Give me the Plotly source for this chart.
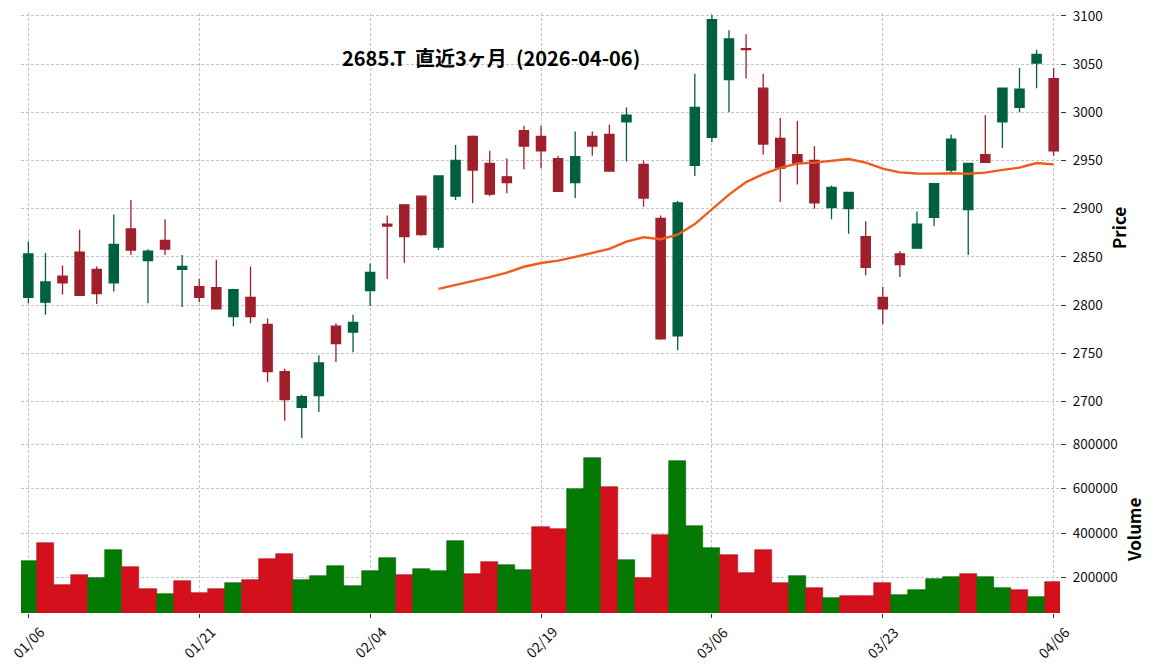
import pandas as pd
import plotly.graph_objects as go
from plotly.subplots import make_subplots

# ---------------- data ----------------
dates = [
    "2026-01-06", "2026-01-07", "2026-01-08", "2026-01-09", "2026-01-13", "2026-01-14",
    "2026-01-15", "2026-01-16", "2026-01-19", "2026-01-20", "2026-01-21", "2026-01-22",
    "2026-01-23", "2026-01-26", "2026-01-27", "2026-01-28", "2026-01-29", "2026-01-30",
    "2026-02-02", "2026-02-03", "2026-02-04", "2026-02-05", "2026-02-06", "2026-02-09",
    "2026-02-10", "2026-02-12", "2026-02-13", "2026-02-16", "2026-02-17", "2026-02-18",
    "2026-02-19", "2026-02-20", "2026-02-24", "2026-02-25", "2026-02-26", "2026-02-27",
    "2026-03-02", "2026-03-03", "2026-03-04", "2026-03-05", "2026-03-06", "2026-03-09",
    "2026-03-10", "2026-03-11", "2026-03-12", "2026-03-13", "2026-03-16", "2026-03-17",
    "2026-03-18", "2026-03-19", "2026-03-23", "2026-03-24", "2026-03-25", "2026-03-26",
    "2026-03-27", "2026-03-30", "2026-03-31", "2026-04-01", "2026-04-02", "2026-04-03",
    "2026-04-06",
]

opens = [2808, 2803, 2830, 2855, 2837, 2823, 2879, 2846, 2867, 2837,
         2819, 2818, 2788, 2808, 2780, 2731, 2694, 2706, 2778, 2772,
         2815, 2884, 2904, 2913, 2860, 2913, 2975, 2947, 2933, 2981,
         2975, 2952, 2927, 2975, 2977, 2990, 2946, 2890, 2768, 2945,
         2974, 3034, 3066, 3025, 2973, 2956, 2950, 2901, 2900, 2871,
         2808, 2853, 2859, 2891, 2940, 2899, 2956, 2990, 3005, 3051,
         3035]
highs = [2866, 2854, 2841, 2878, 2840, 2894, 2909, 2858, 2889, 2852,
         2827, 2847, 2817, 2840, 2786, 2734, 2707, 2748, 2781, 2790,
         2843, 2893, 2904, 2913, 2934, 2966, 2976, 2960, 2952, 2986,
         2986, 2955, 2980, 2980, 2987, 3005, 2950, 2893, 2908, 3040,
         3101, 3085, 3081, 3040, 2994, 2991, 2965, 2924, 2917, 2887,
         2819, 2856, 2897, 2926, 2977, 2947, 2997, 3025, 3046, 3065,
         3046]
lows = [2802, 2790, 2811, 2810, 2801, 2814, 2852, 2802, 2852, 2798,
        2803, 2796, 2778, 2781, 2720, 2680, 2662, 2689, 2741, 2751,
        2799, 2827, 2844, 2872, 2857, 2909, 2906, 2913, 2916, 2941,
        2942, 2918, 2911, 2955, 2939, 2949, 2902, 2764, 2753, 2934,
        2969, 3000, 3035, 2956, 2907, 2925, 2900, 2889, 2874, 2831,
        2780, 2829, 2859, 2882, 2938, 2852, 2948, 2963, 3000, 3025,
        2955]
closes = [2853, 2824, 2823, 2810, 2812, 2863, 2857, 2856, 2858, 2840,
          2808, 2796, 2816, 2788, 2731, 2702, 2705, 2740, 2760, 2782,
          2834, 2882, 2871, 2873, 2934, 2950, 2940, 2915, 2927, 2965,
          2960, 2918, 2954, 2965, 2939, 2997, 2911, 2765, 2906, 3005,
          3096, 3076, 3065, 2967, 2942, 2947, 2906, 2922, 2917, 2839,
          2796, 2842, 2884, 2926, 2972, 2947, 2948, 3025, 3024, 3060,
          2960]
volumes = [273000, 354000, 166000, 210000, 197000, 323000, 246000, 148000, 125000, 183000,
           130000, 148000, 175000, 188000, 282000, 305000, 188000, 206000, 251000, 161000,
           228000, 287000, 210000, 237000, 228000, 363000, 215000, 269000, 255000, 233000,
           426000, 417000, 596000, 736000, 608000, 278000, 198000, 390000, 722000, 430000,
           332000, 300000, 219000, 323000, 175000, 206000, 152000, 107000, 116000, 116000,
           175000, 121000, 143000, 192000, 202000, 215000, 202000, 152000, 143000, 112000,
           179000]

tick_dates = dates[::10]
tick_labels = ["01/06", "01/21", "02/04", "02/19", "03/06", "03/23", "04/06"]
price_ticks = [2700, 2750, 2800, 2850, 2900, 2950, 3000, 3050, 3100]
volume_ticks = [200000, 400000, 600000, 800000]
volume_tick_labels = ["200000", "400000", "600000", "800000"]
ma_window = 25
title_text = "2685.T\u00a0\u00a0直近3ヶ月\u00a0\u00a0(2026-04-06)"

# ---------------- styles ----------------
FONT = "Noto Sans CJK JP"
UP_CANDLE = "#00613f"
DOWN_CANDLE = "#9f1f2a"
UP_VOL = "#037a03"
DOWN_VOL = "#d5101d"
MA_COLOR = "#f05a1c"
GRID = "#c4c4c4"

W, H = 1152, 671
ML, MR, MT, MB = 21, 92, 13, 58
PW, PH = W - ML - MR, H - MT - MB


def px_x(x):
    return (x - ML) / PW


def px_y(y):
    return 1 - (y - MT) / PH


ma = pd.Series(closes, dtype=float).rolling(ma_window).mean()

vol_colors = []
for i in range(len(closes)):
    ref = opens[0] if i == 0 else closes[i - 1]
    vol_colors.append(UP_VOL if closes[i] >= ref else DOWN_VOL)
vol_edge = ["#026402" if c == UP_VOL else "#b00d18" for c in vol_colors]

fig = make_subplots(rows=2, cols=1, shared_xaxes=True, vertical_spacing=0)

fig.add_trace(go.Candlestick(
    x=dates, open=opens, high=highs, low=lows, close=closes,
    increasing=dict(fillcolor=UP_CANDLE, line=dict(color=UP_CANDLE, width=1.3)),
    decreasing=dict(fillcolor=DOWN_CANDLE, line=dict(color=DOWN_CANDLE, width=1.3)),
    whiskerwidth=0, showlegend=False, hoverinfo="skip",
), row=1, col=1)

fig.add_trace(go.Scatter(
    x=dates, y=ma, mode="lines", line=dict(color=MA_COLOR, width=2.4),
    showlegend=False, hoverinfo="skip", connectgaps=False,
), row=1, col=1)

fig.add_trace(go.Bar(
    x=dates, y=volumes, marker=dict(color=vol_colors, line=dict(color=vol_edge, width=0.6)),
    showlegend=False, hoverinfo="skip",
), row=2, col=1)

split = px_y(440)
xr = [-0.43, 60.37]
common_x = dict(type="category", range=xr, showgrid=True, gridcolor=GRID, gridwidth=0.8,
                griddash="3px,2px", tickvals=tick_dates, ticktext=tick_labels,
                zeroline=False, showline=False, automargin=False,
                rangeslider=dict(visible=False))
common_y = dict(side="right", showgrid=True, gridcolor=GRID, gridwidth=0.8,
                griddash="3px,2px", zeroline=False, showline=False, automargin=False,
                ticks="outside", ticklen=5, tickcolor="#333333", tickfont=dict(size=13.5),
                ticklabelstandoff=4)

annotations = [
    dict(text=title_text, x=px_x(491), y=px_y(57), xref="paper", yref="paper",
         showarrow=False, xanchor="center", yanchor="middle",
         font=dict(family=FONT, size=20, color="#000000", weight="bold")),
    dict(text="Price", x=px_x(1118), y=px_y(228), xref="paper", yref="paper",
         showarrow=False, xanchor="center", yanchor="middle", textangle=-90,
         font=dict(family=FONT, size=17, color="#000000", weight="bold")),
    dict(text="Volume", x=px_x(1133), y=px_y(530), xref="paper", yref="paper",
         showarrow=False, xanchor="center", yanchor="middle", textangle=-90,
         font=dict(family=FONT, size=17, color="#000000", weight="bold")),
]
# rotated date labels centred on their ticks
for d, lab in zip(tick_dates, tick_labels):
    annotations.append(dict(
        text=lab, x=d, xref="x2", y=px_y(642), yref="paper", showarrow=False,
        xanchor="center", yanchor="middle", textangle=-45,
        font=dict(family=FONT, size=14, color="#111111"),
    ))

fig.update_layout(
    width=W, height=H, autosize=False,
    margin=dict(l=ML, r=MR, t=MT, b=MB, pad=0, autoexpand=False),
    paper_bgcolor="white", plot_bgcolor="white",
    font=dict(family=FONT, size=13, color="#111111"),
    bargap=0, boxgap=0.46, boxgroupgap=0,
    showlegend=False,
    xaxis=dict(**common_x, showticklabels=False, ticks=""),
    xaxis2=dict(**common_x, showticklabels=False, ticks="outside", ticklen=4,
                tickcolor="#333333"),
    yaxis=dict(**common_y, domain=[split, 1], range=[2660, 3103], tickvals=price_ticks),
    yaxis2=dict(**common_y, domain=[0, split], range=[41000, 818000],
                tickvals=volume_ticks, ticktext=volume_tick_labels),
    annotations=annotations,
)

fig.write_html(
    "out.html",
    config={"displayModeBar": False},
    post_script="document.body.style.margin='0px';document.body.style.overflow='hidden';",
)
